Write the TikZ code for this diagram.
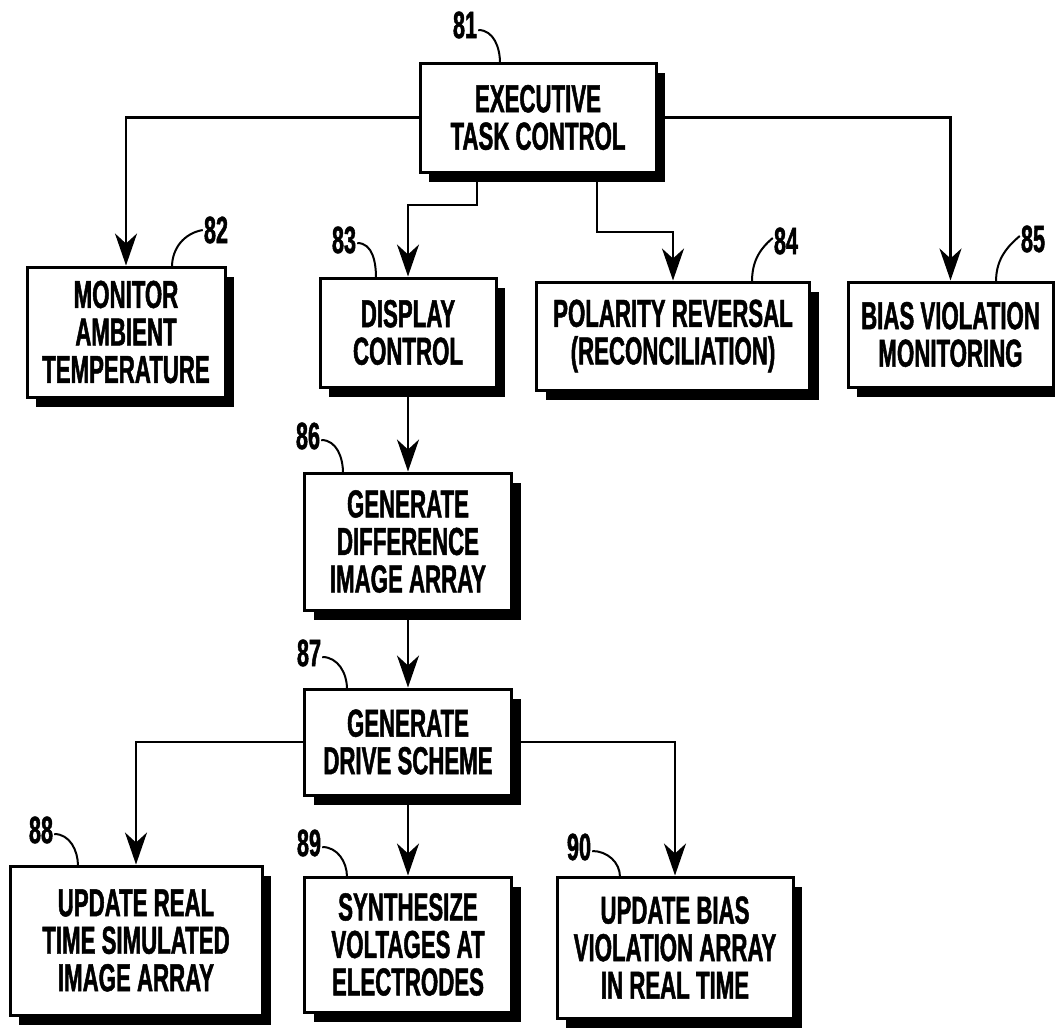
\documentclass[tikz,border=0pt]{standalone}
\usepackage{fontspec}
\newfontfamily\cond{Liberation Sans}[FakeStretch=0.57,FakeBold=1.2]
\usetikzlibrary{arrows.meta,shadows}
\begin{document}
\begin{tikzpicture}[x=1pt,y=-1pt,
  box/.style={draw=black, line width=3pt, fill=white, align=center,
    inner sep=0pt, font=\cond\bfseries\fontsize{39}{37.5}\selectfont,
    drop shadow={shadow xshift=9pt, shadow yshift=-10pt, fill=black, opacity=1}},
  arr/.style={line width=2.5pt, -{Stealth[length=32pt,width=22pt,inset=10pt]}},
  lbl/.style={font=\cond\bfseries\fontsize{38}{38}\selectfont, inner sep=1pt},
  lead/.style={line width=2pt}]
\useasboundingbox (0,0) rectangle (1055,1028);
% boxes
\node[box, minimum width=236pt, minimum height=109pt] (b81) at (538,117.5) {EXECUTIVE\\TASK CONTROL};
\node[box, minimum width=198pt, minimum height=130pt] (b82) at (126,332) {MONITOR\\AMBIENT\\TEMPERATURE};
\node[box, minimum width=176pt, minimum height=109pt] (b83) at (408,332.5) {DISPLAY\\CONTROL};
\node[box, minimum width=273pt, minimum height=108pt] (b84) at (673,336) {POLARITY REVERSAL\\(RECONCILIATION)};
\node[box, minimum width=205pt, minimum height=105pt] (b85) at (950.5,334.5) {BIAS VIOLATION\\MONITORING};
\node[box, minimum width=207pt, minimum height=137pt] (b86) at (408,541.5) {GENERATE\\DIFFERENCE\\IMAGE ARRAY};
\node[box, minimum width=207pt, minimum height=106pt] (b87) at (408,742) {GENERATE\\DRIVE SCHEME};
\node[box, minimum width=252pt, minimum height=149pt] (b88) at (136,940.5) {UPDATE REAL\\TIME SIMULATED\\IMAGE ARRAY};
\node[box, minimum width=207pt, minimum height=135pt] (b89) at (408,944.5) {SYNTHESIZE\\VOLTAGES AT\\ELECTRODES};
\node[box, minimum width=236pt, minimum height=141pt] (b90) at (675,947.5) {UPDATE BIAS\\VIOLATION ARRAY\\IN REAL TIME};
% connectors
\coordinate (k83) at (477,205);
\coordinate (k84) at (597,232);
\draw[arr] (b81.west) -| (b82.north);
\draw[arr] (b81.east) -| (b85.north);
\draw[arr] (b81.south -| k83) -- (k83) -| (b83.north);
\draw[arr] (b81.south -| k84) -- (k84) -| (b84.north);
\draw[arr] (b83.south) -- (b86.north);
\draw[arr] (b86.south) -- (b87.north);
\draw[arr] (b87.west) -| (b88.north);
\draw[arr] (b87.south) -- (b89.north);
\draw[arr] (b87.east) -| (b90.north);
% reference labels
\node[lbl] (l81) at (465,25) {81};
\node[lbl] (l82) at (216,230) {82};
\node[lbl] (l83) at (344,240) {83};
\node[lbl] (l84) at (786,241) {84};
\node[lbl] (l85) at (1033,239) {85};
\node[lbl] (l86) at (308,436) {86};
\node[lbl] (l87) at (309,653) {87};
\node[lbl] (l88) at (41,830) {88};
\node[lbl] (l89) at (309,843) {89};
\node[lbl] (l90) at (579,847) {90};
\coordinate (t81) at (500,63);
\coordinate (t82) at (172,267);
\coordinate (t83) at (376,278);
\coordinate (t84) at (752,282);
\coordinate (t85) at (996,282);
\coordinate (t86) at (343,473);
\coordinate (t87) at (347,689);
\coordinate (t88) at (78,866);
\coordinate (t89) at (347,877);
\coordinate (t90) at (620,877);
\draw[lead] (l81.east) ++(0,5) to[out=0,in=90] (t81);
\draw[lead] (l82.west) to[out=190,in=90] (t82);
\draw[lead] (l83.east) ++(0,3) to[out=0,in=90] (t83);
\draw[lead] (l84.west) ++(0,-3) to[out=220,in=90] (t84);
\draw[lead] (l85.west) ++(0,-3) to[out=220,in=90] (t85);
\draw[lead] (l86.east) ++(0,4) to[out=0,in=90] (t86);
\draw[lead] (l87.east) ++(0,4) to[out=0,in=90] (t87);
\draw[lead] (l88.east) ++(0,4) to[out=0,in=90] (t88);
\draw[lead] (l89.east) ++(0,4) to[out=0,in=90] (t89);
\draw[lead] (l90.east) ++(0,4) to[out=0,in=90] (t90);
\end{tikzpicture}
\end{document}
